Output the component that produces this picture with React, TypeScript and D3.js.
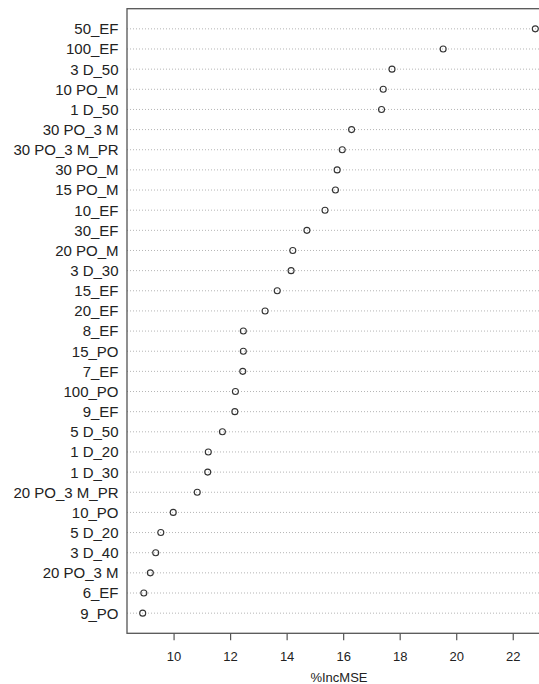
import React from "react";
import * as d3 from "d3";

const labels = [
  "50_EF", "100_EF", "3 D_50", "10 PO_M", "1 D_50", "30 PO_3 M", "30 PO_3 M_PR",
  "30 PO_M", "15 PO_M", "10_EF", "30_EF", "20 PO_M", "3 D_30", "15_EF", "20_EF",
  "8_EF", "15_PO", "7_EF", "100_PO", "9_EF", "5 D_50", "1 D_20", "1 D_30",
  "20 PO_3 M_PR", "10_PO", "5 D_20", "3 D_40", "20 PO_3 M", "6_EF", "9_PO",
];
const values = [
  22.78, 19.52, 17.71, 17.4, 17.34, 16.28, 15.95, 15.77, 15.71, 15.34, 14.7,
  14.2, 14.14, 13.65, 13.22, 12.45, 12.45, 12.43, 12.17, 12.15, 11.71, 11.21,
  11.19, 10.82, 9.97, 9.53, 9.35, 9.16, 8.93, 8.89,
];
const xTicks = [10, 12, 14, 16, 18, 20, 22];
const xTitle = "%IncMSE";

export default function App() {
  const W = 539, H = 684;
  const left = 127, right = 551, top = 8.7, bottom = 633.3;
  const n = labels.length;
  const [vmin, vmax] = d3.extent(values) as [number, number];
  const pad = (vmax - vmin) * 0.04;
  const x = d3.scaleLinear().domain([vmin - pad, vmax + pad]).range([left, right]);
  const y = d3.scaleLinear().domain([0, n + 1]).range([bottom, top]);
  const font = "Liberation Sans, Arial, sans-serif";
  return (
    <svg width={W} height={H} style={{ position: "absolute", left: 0, top: 0 }}>
      <rect x={0} y={0} width={W} height={H} fill="#fff" />
      {labels.map((l, i) => {
        const yy = y(n - i);
        return (
          <g key={l}>
            <line x1={left} x2={right} y1={yy} y2={yy} stroke="#b5b5b5" strokeWidth={1} strokeDasharray="1,2" />
            <text x={118.5} y={yy} dy="0.36em" textAnchor="end" fontFamily={font} fontSize={15} fill="#222">{l}</text>
            <circle cx={x(values[i])} cy={yy} r={3} fill="none" stroke="#333" strokeWidth={1.1} />
          </g>
        );
      })}
      <rect x={left} y={top} width={right - left} height={bottom - top} fill="none" stroke="#555" strokeWidth={1.3} />
      {xTicks.map((t) => (
        <g key={t}>
          <line x1={x(t)} x2={x(t)} y1={bottom} y2={bottom + 7} stroke="#555" strokeWidth={1.2} />
          <text x={x(t)} y={656.5} dy="0.36em" textAnchor="middle" fontFamily={font} fontSize={13} fill="#222">{t}</text>
        </g>
      ))}
      <text x={(left + right) / 2} y={677} dy="0.36em" textAnchor="middle" fontFamily={font} fontSize={13} fill="#222">{xTitle}</text>
    </svg>
  );
}
